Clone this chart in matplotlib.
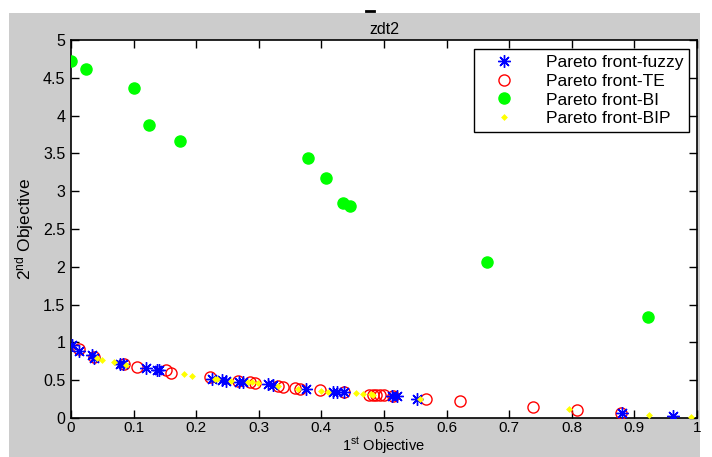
import matplotlib
matplotlib.use("Agg")
import matplotlib.pyplot as plt
from matplotlib.patches import Rectangle
from matplotlib.lines import Line2D

plt.rcParams['font.family'] = ['Liberation Sans', 'DejaVu Sans']
plt.rcParams['mathtext.fontset'] = 'custom'
plt.rcParams['mathtext.rm'] = 'Liberation Sans'
plt.rcParams['mathtext.it'] = 'Liberation Sans'

# Pareto front-fuzzy (blue asterisks)
fuzzy_x = [0.001, 0.013, 0.033, 0.036, 0.079, 0.083, 0.120, 0.137, 0.141,
           0.225, 0.242, 0.248, 0.269, 0.274, 0.315, 0.322, 0.375,
           0.419, 0.425, 0.436, 0.512, 0.520, 0.553, 0.880, 0.962]
fuzzy_y = [0.97, 0.89, 0.83, 0.80, 0.72, 0.71, 0.66, 0.63, 0.63,
           0.52, 0.50, 0.49, 0.48, 0.47, 0.45, 0.44, 0.38,
           0.35, 0.35, 0.34, 0.29, 0.29, 0.25, 0.07, 0.03]

# Pareto front-TE (red open circles)
te_x = [0.013, 0.037, 0.085, 0.106, 0.151, 0.159, 0.222, 0.266, 0.286,
        0.294, 0.330, 0.339, 0.358, 0.366, 0.397, 0.436, 0.476, 0.483,
        0.488, 0.494, 0.500, 0.515, 0.567, 0.621, 0.738, 0.809, 0.879]
te_y = [0.91, 0.81, 0.72, 0.68, 0.63, 0.60, 0.54, 0.49, 0.47,
        0.46, 0.42, 0.41, 0.40, 0.39, 0.37, 0.34, 0.31, 0.31,
        0.31, 0.31, 0.30, 0.29, 0.25, 0.22, 0.14, 0.10, 0.07]

# Pareto front-BI (green filled circles)
bi_x = [0.000, 0.024, 0.100, 0.125, 0.174, 0.378, 0.408, 0.435, 0.446, 0.664, 0.921]
bi_y = [4.72, 4.62, 4.36, 3.88, 3.66, 3.44, 3.17, 2.85, 2.80, 2.06, 1.34]

# Pareto front-BIP (yellow dots)
bip_x = [0.041, 0.050, 0.069, 0.088, 0.181, 0.194, 0.230, 0.233, 0.255,
         0.282, 0.289, 0.298, 0.330, 0.363, 0.400, 0.411, 0.456, 0.466,
         0.479, 0.483, 0.558, 0.796, 0.923, 0.991]
bip_y = [0.80, 0.77, 0.74, 0.70, 0.58, 0.56, 0.52, 0.52, 0.49,
         0.47, 0.47, 0.46, 0.42, 0.39, 0.36, 0.35, 0.33, 0.32,
         0.32, 0.30, 0.25, 0.12, 0.04, 0.01]

x_ticks = [0, 0.1, 0.2, 0.3, 0.4, 0.5, 0.6, 0.7, 0.8, 0.9, 1]
y_ticks = [0, 0.5, 1, 1.5, 2, 2.5, 3, 3.5, 4, 4.5, 5]
x_ticklabels = ['0', '0.1', '0.2', '0.3', '0.4', '0.5', '0.6', '0.7', '0.8', '0.9', '1']
y_ticklabels = ['0', '0.5', '1', '1.5', '2', '2.5', '3', '3.5', '4', '4.5', '5']

W, H = 712, 457
fig = plt.figure(figsize=(W / 100, H / 100), dpi=100, facecolor='white')
# MATLAB-style grey figure panel
fig.patches.append(Rectangle((9 / W, 0), (700 - 9) / W, (H - 13) / H,
                             transform=fig.transFigure, facecolor='#cccccc',
                             edgecolor='none', zorder=-10))

left, right, top, bottom = 71, 697, 40, 418
ax = fig.add_axes([left / W, 1 - bottom / H, (right - left) / W, (bottom - top) / H])
ax.set_facecolor('white')

asterisk = (8, 2, 0)
ax.plot(fuzzy_x, fuzzy_y, linestyle='none', marker=asterisk, color='#0000ff',
        markersize=9, markeredgewidth=1.0, label='Pareto front-fuzzy', zorder=4)
ax.plot(te_x, te_y, linestyle='none', marker='o', markerfacecolor='none',
        markeredgecolor='#ff0000', markersize=8, markeredgewidth=1.0,
        label='Pareto front-TE', zorder=3)
ax.plot(bi_x, bi_y, linestyle='none', marker='o', color='#00ff00',
        markersize=8, label='Pareto front-BI', zorder=3)
ax.plot(bip_x, bip_y, linestyle='none', marker='D', color='#ffff00',
        markersize=3.5, markeredgewidth=0, label='Pareto front-BIP', zorder=5)

ax.set_xlim(0, 1)
ax.set_ylim(0, 5)
ax.set_xticks(x_ticks)
ax.set_xticklabels(x_ticklabels)
ax.set_yticks(y_ticks)
ax.set_yticklabels(y_ticklabels)
ax.tick_params(direction='in', top=True, right=True, length=6, width=1,
               labelsize=11.5, colors='black', pad=4)
ax.tick_params(axis='x', pad=2, labelsize=11)
for s in ax.spines.values():
    s.set_linewidth(1.2)
    s.set_color('black')

ax.set_title('zdt2', fontsize=11.5, pad=4)
ax.set_xlabel('1$^{\\mathrm{st}}$ Objective', fontsize=10.5, va='bottom')
ax.xaxis.set_label_coords(0.5, -0.1)
ax.set_ylabel('2$^{\\mathrm{nd}}$ Objective', fontsize=12.5, va='center')
ax.yaxis.set_label_coords(-0.075, 0.5)

# small dark mark above the title
fig.add_artist(Line2D([366 / W, 374 / W], [1 - 11 / H, 1 - 11 / H],
                      transform=fig.transFigure, color='black', linewidth=2))

leg = ax.legend(loc='upper right', fontsize=12.5, frameon=True, fancybox=False,
                edgecolor='black', framealpha=1, borderpad=0.35,
                labelspacing=0.2, handletextpad=1.0, handlelength=2.8,
                borderaxespad=0, bbox_to_anchor=(0.988, 0.976))
leg.get_frame().set_linewidth(1.0)

fig.savefig('out.png', dpi=100, facecolor=fig.get_facecolor())
